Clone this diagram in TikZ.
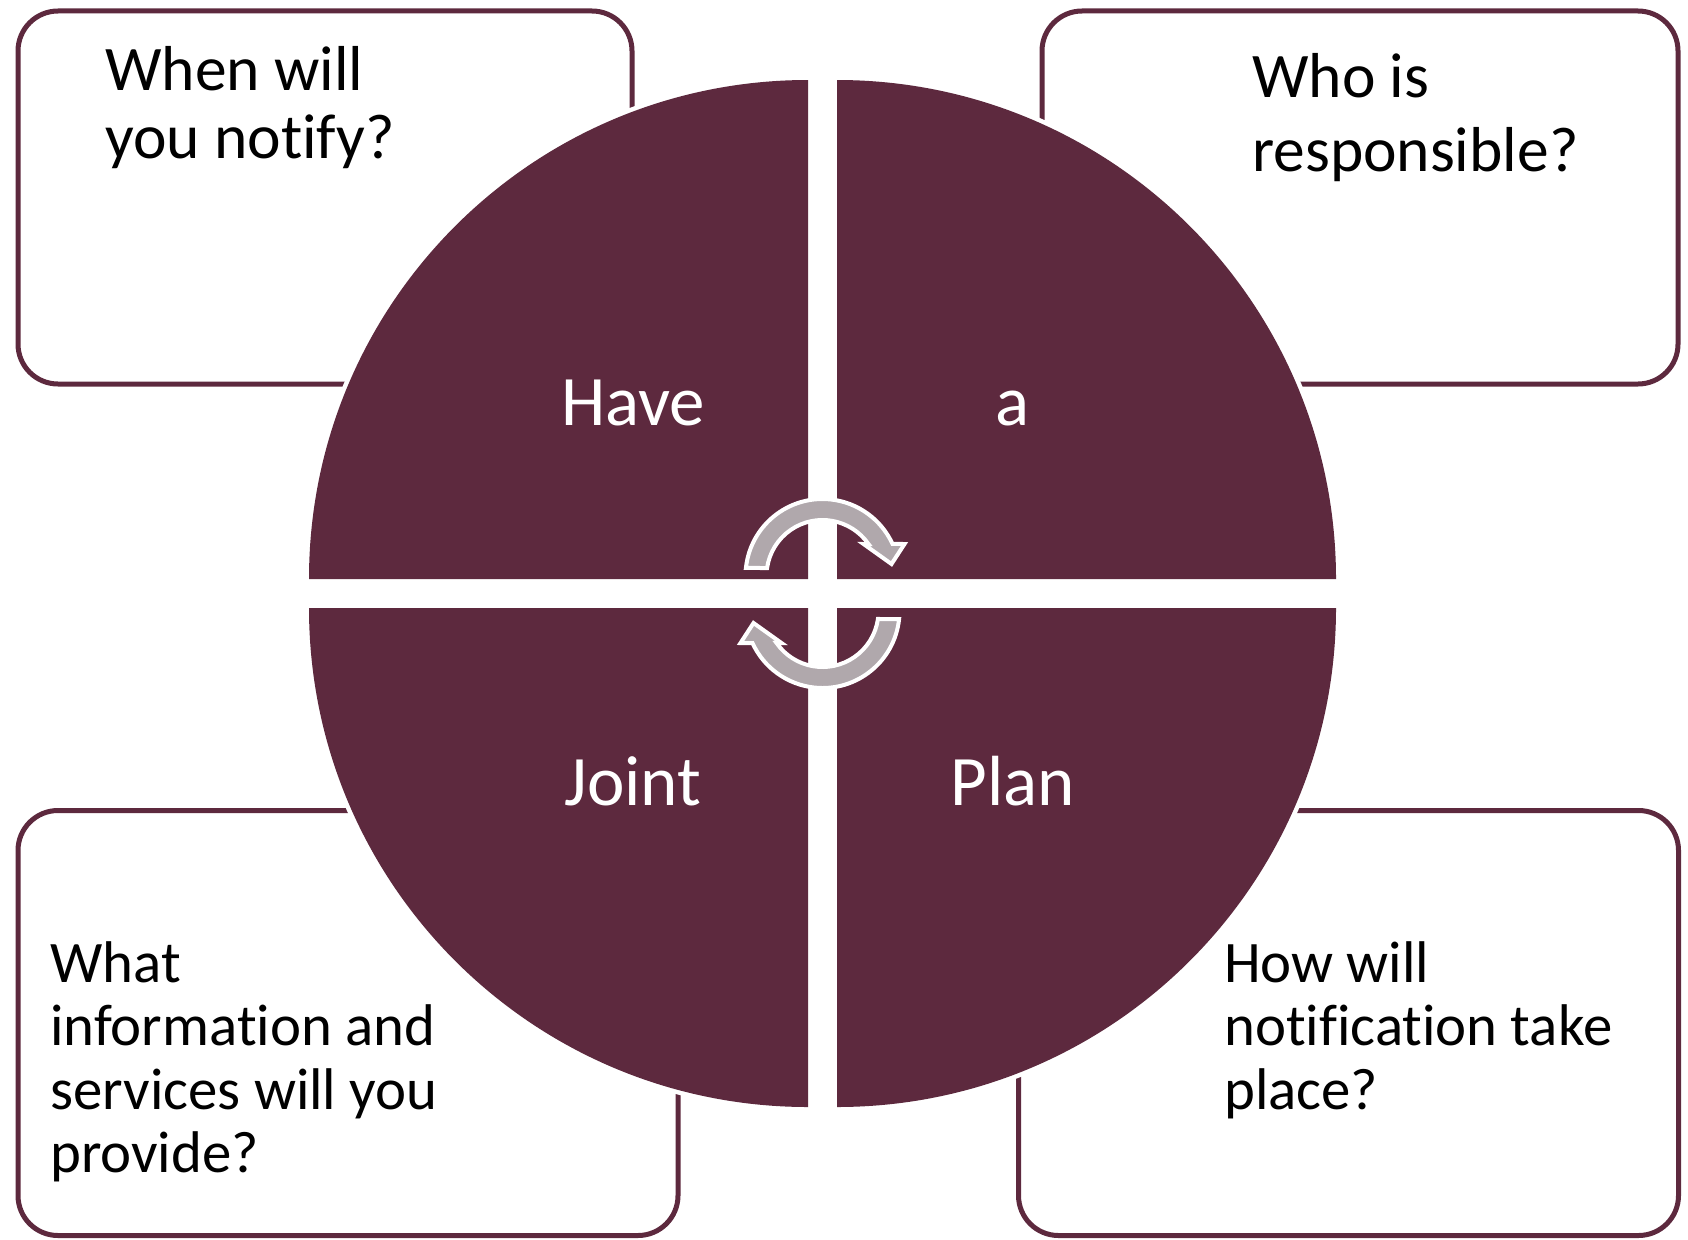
\documentclass[tikz,border=0pt]{standalone}
\usepackage{fontspec}
\setmainfont[Ligatures=NoCommon]{Carlito}
\usetikzlibrary{positioning}
\definecolor{plum}{RGB}{93,41,62}
\definecolor{ringgrey}{RGB}{176,168,172}

\begin{document}
\begin{tikzpicture}[
        x=1pt, y=1pt,
        qbox/.style={rectangle, draw=plum, line width=5, rounded corners=40, inner sep=0},
        qtext/.style={anchor=base west, align=left, inner sep=0, text=black},
        quarter/.style={anchor=base, inner sep=0, text=white, font=\fontsize{71}{78}\selectfont},
        turn/.style={fill=ringgrey, draw=white, line width=4, line join=miter}
    ]

        \useasboundingbox (0,0) rectangle (1688,-1239);

        % question boxes
        \node (whenbox) [qbox, minimum width=614, minimum height=373] at (325,-197.5) {};
        \node (whobox) [qbox, minimum width=636, minimum height=373] at (1360,-197.5) {};
        \node (whatbox) [qbox, minimum width=660, minimum height=425] at (348,-1023) {};
        \node (howbox) [qbox, minimum width=660, minimum height=425] at (1348.5,-1023) {};

        % four quarters of the circle
        \foreach \cx/\cy/\a in {808/579/90, 837/579/0, 837/608/270, 808/608/180}
            \draw[white, line width=9] (\cx,-\cy) -- ++(\a:499) arc[start angle=\a, delta angle=90, radius=499] -- cycle;
        \foreach \cx/\cy/\a in {808/579/90, 837/579/0, 837/608/270, 808/608/180}
            \fill[plum] (\cx,-\cy) -- ++(\a:499) arc[start angle=\a, delta angle=90, radius=499] -- cycle;

        % turning arrows in the middle
        \foreach \r in {0,180}
            \filldraw[turn, shift={(822.5,-593.5)}, rotate=\r, shift={(0,17.5)}]
                (174:77) arc[start angle=174, end angle=24.6, radius=77]
                -- (82,32) -- (69,12) -- (41,32) -- (34.8:56)
                arc[start angle=34.8, end angle=171.8, radius=56] -- cycle;

        \node (have) [quarter] at (633,-425) {Have};
        \node (a) [quarter] at (1012,-425) {a};
        \node (joint) [quarter] at (633,-805) {Joint};
        \node (plan) [quarter] at (1013,-805) {Plan};

        % texts sit on the baseline of their last line
        \node (when) [qtext, font=\fontsize{63.5}{68}\selectfont] at (105,-158) {When will\\you notify?};
        \node (who) [qtext, font=\fontsize{63.5}{74}\selectfont] at (1252,-171) {Who is\\responsible?};
        \node (what) [qtext, font=\fontsize{58.8}{63.5}\selectfont] at (50,-1172.5) {What\\information and\\services will you\\provide?};
        \node (how) [qtext, font=\fontsize{58.8}{63.5}\selectfont] at (1224,-1109) {How will\\notification take\\place?};

    \end{tikzpicture}
\end{document}
